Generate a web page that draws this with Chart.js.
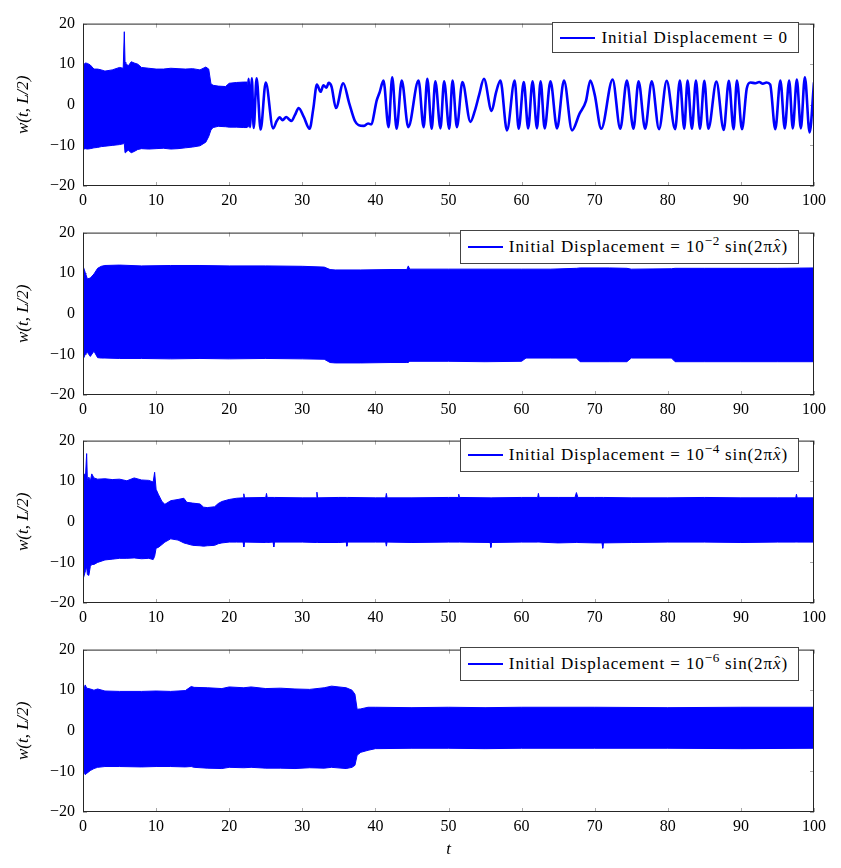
<!DOCTYPE html>
<html>
<head>
<meta charset="utf-8">
<script src="https://cdn.jsdelivr.net/npm/chart.js@4.4.1/dist/chart.umd.min.js"></script>
<style>
html, body { margin: 0; padding: 0; background: #fff; }
#wrap { position: relative; width: 841px; height: 868px; overflow: hidden; background: #fff; }
.panel { position: absolute; left: 0; }
.legend { position: absolute; right: 42px; box-sizing: border-box; border: 1px solid #444; background: #fff;
  display: flex; align-items: center; padding: 0 10px 0 7px; font-family: 'Liberation Serif', serif;
  font-size: 17px; letter-spacing: 0.9px; color: #000; white-space: nowrap; }
.legend .ln { display: inline-block; width: 35px; height: 2px; background: #0000ff; margin-right: 6px; }
.legend sup { font-size: 0.78em; vertical-align: 0.55em; line-height: 0; letter-spacing: 0.5px; }
.legend .hx { position: relative; font-style: italic; }
.legend .hat { position: absolute; left: 0.12em; top: -0.12em; font-style: normal; font-size: 0.9em; }
</style>
</head>
<body>
<div id="wrap"></div>
<script>
// ---------------- data ----------------
const xTicks = [0, 10, 20, 30, 40, 50, 60, 70, 80, 90, 100];
const yTicks = [-20, -10, 0, 10, 20];

const HATX = '<span class="hx">x<span class="hat">ˆ</span></span>';
const legendLabels = [
  'Initial Displacement = 0',
  'Initial Displacement = 10<sup>−2</sup> sin(2π' + HATX + ')',
  'Initial Displacement = 10<sup>−4</sup> sin(2π' + HATX + ')',
  'Initial Displacement = 10<sup>−6</sup> sin(2π' + HATX + ')'
];

// Panel 1: dense band (envelope) then individual oscillations
const p1BandT     = [0, 0.3, 0.6, 1, 1.5, 2, 2.5, 3, 4, 5, 5.5, 5.65, 5.75, 5.85, 6.2, 6.6, 7, 7.5, 8, 9, 10, 11, 12, 13, 14, 15, 16, 16.8, 17.2, 17.5, 17.8, 18.5, 19.5, 20, 21, 22, 22.5];
const p1BandUpper = [9.5, 10.3, 10.2, 9.8, 8.8, 8.8, 8.6, 8.3, 8.6, 9.2, 9.0, 18.0, 10.5, 10.2, 9.6, 10.6, 10.3, 10.0, 9.2, 9.0, 8.8, 8.8, 9.0, 8.9, 8.8, 8.9, 8.6, 9.3, 8.8, 5.2, 4.8, 4.6, 4.5, 5.3, 5.5, 5.6, 5.6];
const p1BandLower = [-11, -10.8, -10.9, -10.8, -10.6, -10.5, -10.3, -10.2, -10, -9.8, -9.6, -9.5, -11.8, -11.6, -11.2, -11.8, -11.5, -11.0, -10.8, -10.9, -10.8, -10.7, -10.9, -10.8, -10.6, -10.4, -10.1, -9.2, -7.8, -6.2, -5.6, -5.3, -5.4, -5.5, -5.5, -5.6, -5.6];

const p1LineT = [22.5, 22.65, 22.85, 23.1, 23.35, 23.75, 24.3, 25.0, 26.0, 26.5, 26.9, 27.3, 27.8, 28.2, 28.5, 29.0, 29.5, 30.2, 31.0, 31.5, 32.0, 32.5, 32.9, 33.3, 33.6, 34.0, 34.6, 35.6, 36.4, 37.2, 37.7, 38.4, 39.0, 39.4, 40.2, 40.6, 41.1, 41.8, 42.3, 42.9, 43.6, 44.5, 45.9, 46.6, 47.1, 47.7, 48.2, 48.9, 49.4, 50.1, 50.55, 51.15, 51.9, 53.0, 53.6, 54.2, 54.85, 55.9, 56.5, 57.1, 58.0, 59.05, 59.6, 60.3, 60.9, 61.5, 62.1, 62.6, 63.15, 63.95, 64.85, 65.8, 66.9, 67.9, 68.8, 69.4, 70.0, 70.9, 72.45, 73.5, 74.4, 75.3, 76.0, 76.9, 77.8, 78.8, 79.85, 81.0, 81.65, 82.25, 82.7, 83.3, 83.85, 84.4, 85.0, 85.55, 86.65, 87.65, 88.35, 89.0, 89.45, 90.15, 90.8, 91.3, 92.0, 92.5, 93.0, 93.5, 94.0, 94.7, 95.4, 96.0, 96.6, 97.1, 97.65, 98.2, 98.75, 99.4, 100];
const p1LineW = [-5.5, 6.4, -5.5, 6.5, -5.7, 6.5, -6.1, 5.5, -5.8, -4.0, -3.1, -3.8, -3.0, -3.6, -4.0, -2.5, -0.8, -3.0, -5.9, -1.0, 5.0, 3.2, 4.8, 4.2, 5.4, 4.5, -0.8, 5.3, 0.5, -4.0, -5.0, -5.2, -4.6, -4.8, 1.2, 3.2, 6.0, -5.5, 6.8, -5.9, 6.0, -5.5, 6.0, -5.5, 6.4, -5.9, 5.8, -5.8, 5.8, -5.9, 6.0, -5.5, 5.6, -4.2, -1.5, 2.5, 6.4, -1.5, 3.0, 6.0, -6.3, 6.0, -5.9, 5.6, -5.8, 5.8, -5.8, 5.8, -5.8, 5.8, -5.8, 6.0, -6.3, -2.3, 0.9, 6.0, 2.5, -5.9, 6.2, -5.9, 6.0, -5.9, 5.8, -5.9, 5.8, -6.0, 5.9, -6.0, 6.0, -5.9, 6.0, -5.9, 6.0, -5.9, 5.9, -5.9, 5.7, -6.2, 5.9, -6.0, 6.0, -6.0, 4.0, 5.5, 5.3, 5.6, 5.2, 5.5, 5.0, -6.0, 6.0, -5.8, 6.0, -5.8, 6.2, -5.8, 6.8, -6.8, 5.5];

// Panel 2: 1e-2 sin(2πx̂) — envelope of the dense oscillation
const p2T     = [0, 0.3, 0.6, 1, 1.5, 2, 2.5, 3, 5, 8, 12, 16, 20, 25, 30, 33, 33.8, 34.5, 38, 42, 44.3, 44.5, 44.7, 50, 55, 60, 60.6, 64, 67.5, 68, 72, 74.4, 75, 80.5, 81, 85, 90, 95, 100];
const p2Upper = [11.8, 10.2, 8.6, 8.8, 9.8, 11.2, 11.7, 11.9, 12.0, 11.8, 11.9, 11.9, 11.8, 11.8, 11.7, 11.5, 10.9, 10.8, 10.8, 10.9, 10.9, 11.8, 11.0, 11.0, 11.0, 11.0, 11.0, 11.0, 11.2, 11.3, 11.3, 11.2, 11.0, 11.1, 11.2, 11.2, 11.2, 11.2, 11.3];
const p2Lower = [-11.3, -10, -9.5, -10.5, -9.2, -10.8, -10.9, -10.9, -11, -11, -11.1, -11, -11.1, -11, -11.1, -11.2, -12.0, -12.1, -12.1, -12.0, -12.0, -12.0, -11.7, -11.7, -11.8, -11.7, -10.9, -10.9, -10.9, -11.8, -11.8, -11.8, -10.9, -10.9, -11.8, -11.8, -11.8, -11.8, -11.8];

// Panel 3: 1e-4 sin(2πx̂) (envelope, with the visible edge spikes)
const p3T     = [0, 0.35, 0.5, 0.6, 0.8, 1.0, 1.2, 1.5, 2, 3, 4, 5, 6, 7, 8, 9, 9.6, 9.8, 10.0, 10.3, 10.8, 11.2, 12, 13, 13.8, 14.2, 15, 16, 16.5, 17, 18, 18.5, 19,
                 20, 21, 21.9, 22.0, 22.1, 25, 25.1, 25.2, 26.0, 26.1, 26.2, 30, 31.9, 32.0, 32.1, 35, 36.0, 36.1, 36.2, 40, 41.4, 41.5, 41.6, 45, 50, 51.3, 51.4, 51.5, 55.7, 55.8, 55.9, 60, 62.2, 62.3, 62.4, 65, 67.3, 67.5, 67.7, 70, 71.0, 71.1, 71.2, 75, 80, 85, 90, 95, 97.5, 97.6, 97.7, 100];
const p3Upper = [12.0, 11.5, 16.8, 10.2, 11.0, 10.0, 11.8, 10.8, 10.5, 10.6, 10.4, 10.5, 10.1, 10.8, 10.3, 10.2, 9.8, 12.2, 8.0, 6.8, 5.0, 4.3, 5.2, 5.5, 5.8, 4.8, 4.6, 4.4, 3.6, 3.5, 3.7, 4.5, 5.0,
                 5.5, 5.8, 5.9, 6.9, 5.9, 6.0, 7.0, 6.0, 6.0, 6.0, 6.0, 5.9, 5.9, 7.3, 5.9, 6.0, 6.0, 6.0, 6.0, 5.9, 5.9, 7.0, 5.9, 5.9, 6.0, 6.0, 6.8, 6.0, 5.9, 5.9, 5.9, 6.0, 6.0, 7.0, 6.0, 6.0, 6.0, 7.2, 6.0, 6.0, 6.0, 6.0, 6.0, 5.9, 5.9, 6.0, 5.9, 5.9, 5.9, 6.8, 5.9, 5.9];
const p3Lower = [-14.2, -12, -11, -13, -13.2, -11, -10.5, -10.5, -10.0, -9.4, -9.2, -9.0, -9.0, -8.9, -9.1, -9.0, -9.3, -8.5, -6.5, -6.3, -5.6, -5.0, -4.2, -4.5, -5.2, -5.4, -5.8, -5.9, -6.0, -5.9, -5.8, -5.4, -5.2,
                 -5.0, -5.0, -5.0, -6.2, -5.0, -5.1, -5.1, -5.1, -5.0, -6.2, -5.0, -5.0, -5.1, -5.1, -5.1, -5.1, -5.0, -6.0, -5.0, -5.0, -5.0, -6.0, -5.0, -5.1, -5.0, -5.0, -5.0, -5.0, -5.1, -6.3, -5.1, -5.0, -5.0, -5.0, -5.0, -5.2, -5.1, -5.1, -5.1, -5.2, -5.2, -6.5, -5.2, -5.1, -5.0, -5.0, -5.1, -5.0, -5.0, -5.0, -5.0, -5.0];

// Panel 4: 1e-6 sin(2πx̂)
const p4T     = [0, 0.3, 0.5, 1, 1.5, 2, 3, 5, 8, 10, 12, 14, 14.8, 15.2, 17, 19, 20, 22, 23, 25, 27, 29, 31, 33, 34, 36, 36.8, 37.2, 37.5, 38, 39, 40, 45, 50, 55, 60, 70, 80, 90, 100];
const p4Upper = [9.5, 11.3, 10.5, 10.3, 10.0, 10.3, 9.8, 9.7, 9.7, 9.8, 9.7, 9.9, 10.9, 10.7, 10.6, 10.4, 10.8, 10.6, 10.8, 10.4, 10.5, 10.3, 10.2, 10.6, 11.0, 10.6, 10.0, 9.0, 5.3, 5.4, 5.8, 5.8, 5.7, 5.8, 5.7, 5.8, 5.8, 5.7, 5.8, 5.8];
const p4Lower = [-9.5, -10.8, -10.5, -9.8, -9.3, -9.0, -8.8, -8.8, -8.9, -8.8, -8.8, -8.9, -8.8, -9.0, -9.2, -9.3, -9.0, -9.1, -9.0, -9.2, -9.2, -9.3, -9.1, -9.2, -9.0, -9.3, -9.0, -8.5, -6.0, -5.3, -4.8, -4.4, -4.3, -4.3, -4.4, -4.3, -4.3, -4.3, -4.4, -4.3];

// ---------------- layout / styling ----------------
const BLUE = '#0000ff';
const FONT = "'Liberation Serif', 'Times New Roman', serif";
const CHART_TOPS = [18, 227, 435, 644];
const PLOT_H = 168;
const PAD_TOP = 12;
const LEGEND_TOPS = [22, 230, 438, 647];
const LEGEND_H = [31, 34, 34, 34];

function pts(ts, ws) { return ts.map((t, i) => ({ x: t, y: ws[i] })); }

function bandSets(ts, up, lo) {
  return [
    { data: pts(ts, up), borderColor: BLUE, backgroundColor: BLUE, borderWidth: 1, fill: '+1' },
    { data: pts(ts, lo), borderColor: BLUE, backgroundColor: BLUE, borderWidth: 1, fill: false }
  ];
}

const framePlugin = {
  id: 'frame',
  beforeDatasetsDraw(chart) {
    const { ctx, chartArea: a, scales: { x, y } } = chart;
    ctx.save();
    ctx.strokeStyle = '#a8a8a8';
    ctx.lineWidth = 1;
    ctx.beginPath();
    xTicks.forEach(v => {
      const px = Math.round(x.getPixelForValue(v)) + 0.5;
      ctx.moveTo(px, a.top); ctx.lineTo(px, a.top + 4);
      ctx.moveTo(px, a.bottom); ctx.lineTo(px, a.bottom - 4);
    });
    yTicks.forEach(v => {
      const py = Math.round(y.getPixelForValue(v)) + 0.5;
      ctx.moveTo(a.left, py); ctx.lineTo(a.left + 4, py);
      ctx.moveTo(a.right, py); ctx.lineTo(a.right - 4, py);
    });
    ctx.stroke();
    ctx.restore();
  },
  afterDatasetsDraw(chart) {
    const { ctx, chartArea: a } = chart;
    ctx.save();
    ctx.strokeStyle = '#262626';
    ctx.lineWidth = 1;
    ctx.strokeRect(a.left + 0.5, a.top + 0.5, a.right - a.left - 1, a.bottom - a.top - 1);
    ctx.restore();
  }
};

function makePanel(idx, datasets) {
  const last = idx === 3;
  const xh = last ? 48 : 28;
  const H = PAD_TOP + PLOT_H + xh;
  const wrap = document.getElementById('wrap');
  const div = document.createElement('div');
  div.className = 'panel';
  div.style.top = (CHART_TOPS[idx] - PAD_TOP) + 'px';
  div.style.width = '841px';
  div.style.height = H + 'px';
  const cv = document.createElement('canvas');
  cv.width = 841; cv.height = H;
  cv.style.width = '841px'; cv.style.height = H + 'px';
  div.appendChild(cv);
  wrap.appendChild(div);

  const leg = document.createElement('div');
  leg.className = 'legend';
  leg.style.top = LEGEND_TOPS[idx] + 'px';
  leg.style.height = LEGEND_H[idx] + 'px';
  leg.innerHTML = '<span class="ln"></span><span>' + legendLabels[idx] + '</span>';
  wrap.appendChild(leg);

  const minus = v => String(v).replace('-', '\u2212');

  new Chart(cv, {
    type: 'line',
    data: { datasets },
    options: {
      responsive: false,
      animation: false,
      devicePixelRatio: 1,
      layout: { padding: { top: PAD_TOP, right: 27, left: 0, bottom: 0 } },
      plugins: { legend: { display: false }, tooltip: { enabled: false } },
      elements: { point: { radius: 0 }, line: { tension: 0 } },
      scales: {
        x: {
          type: 'linear', min: 0, max: 100,
          afterBuildTicks: s => { s.ticks = xTicks.map(v => ({ value: v })); },
          ticks: { autoSkip: false, maxRotation: 0, padding: 5, color: '#000',
                   font: { family: FONT, size: 16 }, callback: v => minus(v) },
          grid: { display: false, drawTicks: false },
          border: { display: false },
          title: { display: last, text: 't', color: '#000',
                   font: { family: FONT, size: 17, style: 'italic' }, padding: { top: 4, bottom: 0 } },
          afterFit: s => { s.height = xh; }
        },
        y: {
          type: 'linear', min: -20, max: 20,
          afterBuildTicks: s => { s.ticks = yTicks.map(v => ({ value: v })); },
          ticks: { autoSkip: false, padding: 8, color: '#000',
                   font: { family: FONT, size: 16 }, callback: v => minus(v) },
          grid: { display: false, drawTicks: false },
          border: { display: false },
          title: { display: true, text: 'w(t, L/2)', color: '#000',
                   font: { family: FONT, size: 17, style: 'italic' }, padding: { top: 13, bottom: 0 } },
          afterFit: s => { s.width = 83; }
        }
      }
    },
    plugins: [framePlugin]
  });
}

makePanel(0, bandSets(p1BandT, p1BandUpper, p1BandLower).concat([
  { data: pts(p1LineT, p1LineW), borderColor: BLUE, borderWidth: 2.6, fill: false,
    cubicInterpolationMode: 'monotone', borderJoinStyle: 'round' }
]));
makePanel(1, bandSets(p2T, p2Upper, p2Lower));
makePanel(2, bandSets(p3T, p3Upper, p3Lower));
makePanel(3, bandSets(p4T, p4Upper, p4Lower));
</script>
</body>
</html>
